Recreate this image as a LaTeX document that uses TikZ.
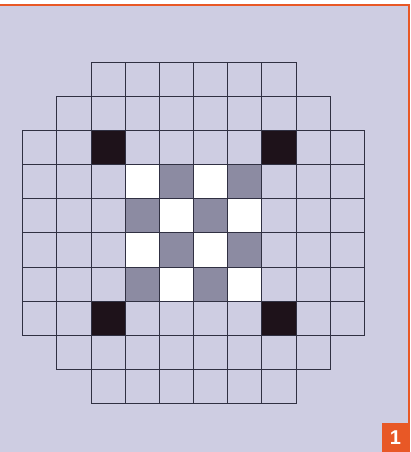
\documentclass[tikz,border=0pt]{standalone}
\usepackage{fontspec}
\setsansfont{Liberation Sans}
\usepackage{xcolor}

\definecolor{board}{RGB}{206,205,226}
\definecolor{tile}{RGB}{140,139,162}
\definecolor{pit}{RGB}{30,18,26}
\definecolor{frame}{RGB}{232,88,38}
\definecolor{gridline}{RGB}{48,48,66}

\begin{document}
\begin{tikzpicture}[
    x=1pt, y=-1pt,
    cell/.style={draw=gridline, line width=0.8pt},
    tag/.style={fill=frame, text=white, font=\sffamily\bfseries\fontsize{20}{20}\selectfont, minimum width=27pt, minimum height=29pt, inner sep=0pt}
]

% Page and board
\useasboundingbox (0,0) rectangle (411,452);
\fill[white] (0,0) rectangle (411,452);
\fill[board] (0,5) rectangle (409,452);
\draw[frame, line width=1.2pt] (0,5) -- (409,5) -- (409,452);

% Cells, row by row
\def\s{34.17}
\foreach \r/\first/\last in {0/2/7, 1/1/8, 2/0/9, 3/0/9, 4/0/9, 5/0/9, 6/0/9, 7/0/9, 8/1/8, 9/2/7} {
    \foreach \c in {\first,...,\last}
        \draw[cell] ({22.7+\c*\s},{62+\r*\s}) rectangle ++(\s,\s);
}

% Black corners
\foreach \r/\c in {2/2, 2/7, 7/2, 7/7}
    \filldraw[cell, fill=pit] ({22.7+\c*\s},{62+\r*\s}) rectangle ++(\s,\s);

% Centre checkerboard
\foreach \r in {3,...,6} {
    \foreach \c in {3,...,6} {
        \pgfmathtruncatemacro{\odd}{mod(\r+\c,2)}
        \ifnum\odd=0
            \filldraw[cell, fill=white] ({22.7+\c*\s},{62+\r*\s}) rectangle ++(\s,\s);
        \else
            \filldraw[cell, fill=tile] ({22.7+\c*\s},{62+\r*\s}) rectangle ++(\s,\s);
        \fi
    }
}

% Figure number
\node[tag] (number) at (395.5,437.5) {1};

\end{tikzpicture}
\end{document}
